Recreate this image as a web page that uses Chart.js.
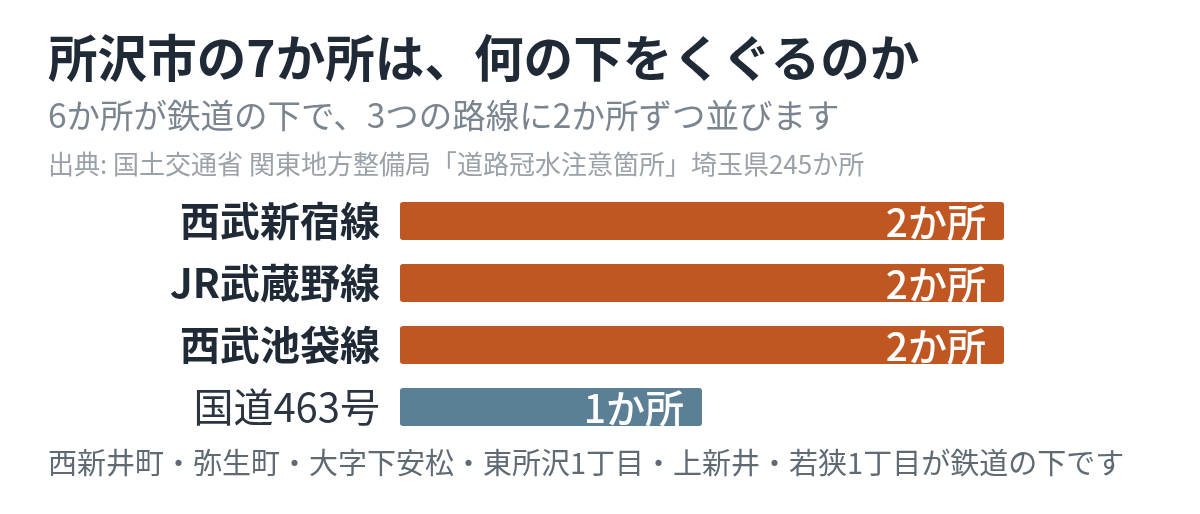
<!DOCTYPE html>
<html lang="ja">
<head>
<meta charset="utf-8">
<script src="https://cdn.jsdelivr.net/npm/chart.js@4"></script>
<style>
  html, body { margin: 0; padding: 0; background: #ffffff; }
  #wrap { position: relative; width: 1200px; height: 514px; overflow: hidden; font-family: "Noto Sans CJK JP", "Noto Sans", sans-serif; }
  #chart { position: absolute; left: 0; top: 0; }
  .t { position: absolute; left: 48px; white-space: nowrap; line-height: 1; }
  #title { top: 31px; font-size: 49.6px; font-weight: 700; color: #1f2a36; }
  #subtitle { top: 97px; font-size: 33.5px; font-weight: 400; color: #7b8590; }
  #source { top: 150px; font-size: 26px; font-weight: 400; color: #9aa1a8; }
  #footer { top: 447px; font-size: 29px; font-weight: 400; color: #5f6a74; }
</style>
</head>
<body>
<div id="wrap">
  <canvas id="chart" width="1200" height="514"></canvas>
  <div class="t" id="title">所沢市の7か所は、何の下をくぐるのか</div>
  <div class="t" id="subtitle">6か所が鉄道の下で、3つの路線に2か所ずつ並びます</div>
  <div class="t" id="source">出典: 国土交通省 関東地方整備局「道路冠水注意箇所」埼玉県245か所</div>
  <div class="t" id="footer">西新井町・弥生町・大字下安松・東所沢1丁目・上新井・若狭1丁目が鉄道の下です</div>
</div>
<script>
const categories = ["西武新宿線", "JR武蔵野線", "西武池袋線", "国道463号"];
const counts = [2, 2, 2, 1];
const valueLabels = ["2か所", "2か所", "2か所", "1か所"];
const isRail = [true, true, true, false];

const RAIL_COLOR = "#c05621";
const ROAD_COLOR = "#5b7f95";

const valueLabelPlugin = {
  id: "valueLabels",
  afterDatasetsDraw(chart) {
    const ctx = chart.ctx;
    const meta = chart.getDatasetMeta(0);
    ctx.save();
    ctx.fillStyle = "#ffffff";
    ctx.font = '500 39px "Noto Sans CJK JP", sans-serif';
    ctx.textAlign = "right";
    ctx.textBaseline = "middle";
    meta.data.forEach((bar, i) => {
      ctx.fillText(valueLabels[i], bar.x - 18, bar.y + 1);
    });
    ctx.restore();
  }
};

new Chart(document.getElementById("chart"), {
  type: "bar",
  data: {
    labels: categories,
    datasets: [{
      data: counts,
      backgroundColor: isRail.map(r => r ? RAIL_COLOR : ROAD_COLOR),
      borderRadius: 3,
      borderSkipped: false,
      barPercentage: 0.613,
      categoryPercentage: 1.0
    }]
  },
  options: {
    indexAxis: "y",
    responsive: false,
    animation: false,
    layout: { padding: { left: 0, right: 196, top: 190, bottom: 76 } },
    plugins: { legend: { display: false }, tooltip: { enabled: false } },
    scales: {
      x: { display: false, min: 0, max: 2 },
      y: {
        grid: { display: false, drawTicks: false },
        border: { display: false },
        afterFit(scale) { scale.width = 400; },
        ticks: {
          padding: 20,
          color: (c) => isRail[c.index] ? "#1f2a36" : "#2b3440",
          font: (c) => ({
            family: '"Noto Sans CJK JP", sans-serif',
            size: 40,
            weight: isRail[c.index] ? "bold" : "normal"
          })
        }
      }
    }
  },
  plugins: [valueLabelPlugin]
});
</script>
</body>
</html>
